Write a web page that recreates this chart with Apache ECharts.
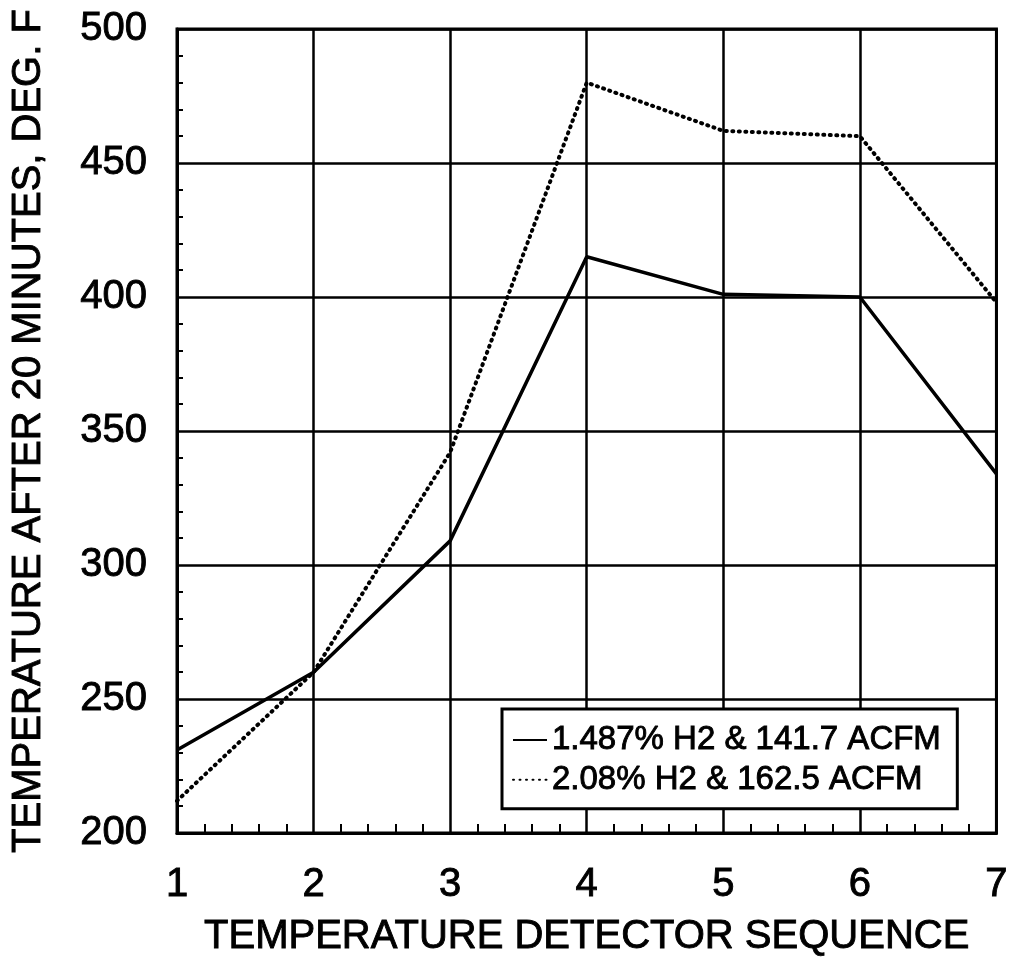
<!DOCTYPE html>
<html>
<head>
<meta charset="utf-8">
<script src="https://cdn.jsdelivr.net/npm/echarts@6/dist/echarts.min.js"></script>
<style>html,body{margin:0;padding:0;background:#fff}#c{width:1011px;height:967px}</style>
</head>
<body>
<div id="c"></div>
<script>
const detectors = [1, 2, 3, 4, 5, 6, 7];
const seriesNames = ['1.487% H2 & 141.7 ACFM', '2.08% H2 & 162.5 ACFM'];
const solidValues = [231, 260, 309, 415, 401, 400, 334];
const dottedValues = [212, 260, 342, 480, 462, 460, 398];
const xTitle = 'TEMPERATURE DETECTOR SEQUENCE';
const yTitle = 'TEMPERATURE AFTER 20 MINUTES, DEG. F';

const font = '"Liberation Sans", Arial, Helvetica, sans-serif';
const txt = (size) => ({fontFamily: font, fontSize: size, color: '#000', textBorderColor: '#000', textBorderWidth: 0.9});
const chart = echarts.init(document.getElementById('c'), null, {renderer: 'canvas'});
chart.setOption({
  animation: false,
  backgroundColor: '#fff',
  grid: {left: 177, right: 10, top: 29, bottom: 134, show: true, borderColor: '#000', borderWidth: 3, backgroundColor: 'transparent'},
  xAxis: {
    type: 'value', min: 1, max: 7, interval: 1,
    name: xTitle, nameLocation: 'middle', nameGap: 84,
    nameTextStyle: txt(40),
    axisLine: {show: true, lineStyle: {color: '#000', width: 3}},
    axisTick: {show: false, inside: true},
    minorTick: {show: true, splitNumber: 5, length: 9, lineStyle: {color: '#000', width: 2}},
    axisLabel: Object.assign(txt(40), {margin: 32}),
    splitLine: {show: true, lineStyle: {color: '#000', width: 2.5}}
  },
  yAxis: {
    type: 'value', min: 200, max: 500, interval: 50,
    name: yTitle, nameLocation: 'middle', nameGap: 128,
    nameTextStyle: txt(40),
    axisLine: {show: true, lineStyle: {color: '#000', width: 3}},
    axisTick: {show: false, inside: true},
    minorTick: {show: true, splitNumber: 5, length: 6, lineStyle: {color: '#000', width: 2}},
    axisLabel: Object.assign(txt(40), {margin: 30}),
    splitLine: {show: true, lineStyle: {color: '#000', width: 2.5}}
  },
  legend: {
    orient: 'vertical', left: 502, top: 709,
    padding: [14, 16, 12, 10], itemGap: 6,
    itemWidth: 34, itemHeight: 14,
    backgroundColor: '#fff', borderColor: '#000', borderWidth: 3, borderRadius: 0,
    itemStyle: {opacity: 0},
    textStyle: txt(33),
    data: seriesNames
  },
  series: [
    {
      name: seriesNames[0], type: 'line', symbol: 'none',
      data: detectors.map((d, i) => [d, solidValues[i]]),
      lineStyle: {color: '#000', width: 3.5, type: 'solid'},
      itemStyle: {color: '#000'}
    },
    {
      name: seriesNames[1], type: 'line', symbol: 'none',
      data: detectors.map((d, i) => [d, dottedValues[i]]),
      lineStyle: {color: '#000', width: 4, type: [1, 5.5], cap: 'round'},
      itemStyle: {color: '#000'}
    }
  ]
});
</script>
</body>
</html>
